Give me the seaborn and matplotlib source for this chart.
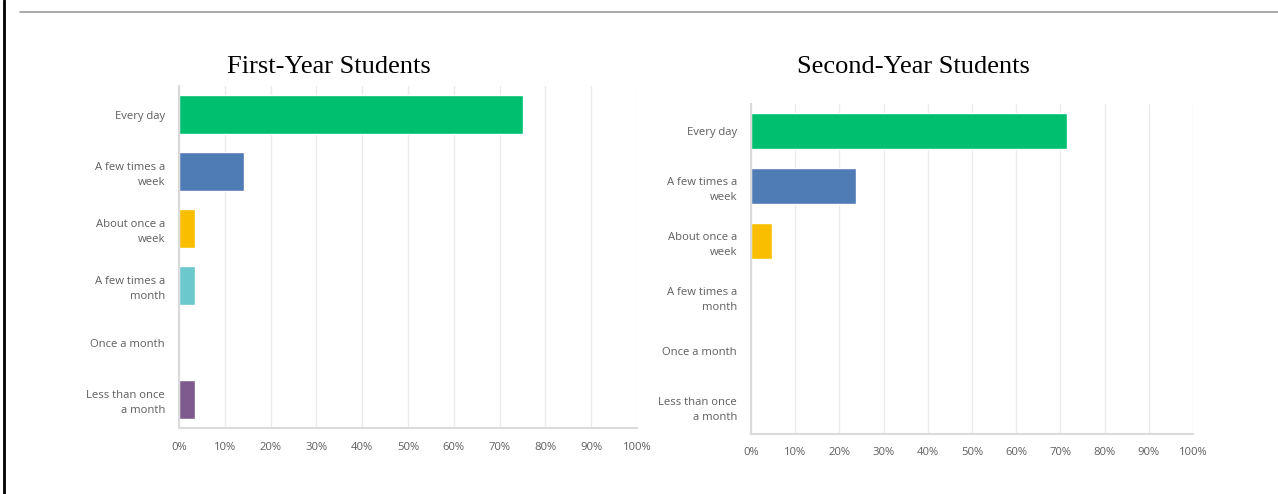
import matplotlib
matplotlib.use("Agg")
import matplotlib.pyplot as plt
from matplotlib.lines import Line2D
import seaborn as sns
import pandas as pd

# Survey answers: how often students use the service
categories = [
    "Every day",
    "A few times a\nweek",
    "About once a\nweek",
    "A few times a\nmonth",
    "Once a month",
    "Less than once\na month",
]
first_year_pct = [75.0, 14.3, 3.6, 3.6, 0.0, 3.6]
second_year_pct = [71.4, 23.8, 4.8, 0.0, 0.0, 0.0]
bar_colors = ["#00BF6F", "#507CB6", "#F9BE00", "#6BC8CD", "#FF8B4F", "#7D5B8E"]
x_ticks = [0, 10, 20, 30, 40, 50, 60, 70, 80, 90, 100]
x_tick_labels = [f"{t}%" for t in x_ticks]
titles = ["First-Year Students", "Second-Year Students"]

sns.set_theme(style="white")
plt.rcParams["font.family"] = ["Open Sans", "DejaVu Sans"]

W, H = 1278, 494
fig = plt.figure(figsize=(W / 100, H / 100), dpi=100)
fig.patch.set_facecolor("white")

# page frame: grey rule along the top, black rule at the left
fig.add_artist(Line2D([20 / W, 1.0], [1 - 12 / H, 1 - 12 / H], color="#9a9a9a", lw=1.2))
fig.add_artist(Line2D([4 / W, 4 / W], [0, 1], color="black", lw=2.0))

panels = [
    dict(rect=[179 / W, 1 - 428 / H, 458 / W, 342 / H], values=first_year_pct,
         title=titles[0], title_xy=(329 / W, 1 - 67 / H)),
    dict(rect=[751 / W, 1 - 433.5 / H, 442 / W, 330 / H], values=second_year_pct,
         title=titles[1], title_xy=(913 / W, 1 - 67 / H)),
]

label_color = "#5f5f5f"
for p in panels:
    ax = fig.add_axes(p["rect"])
    df = pd.DataFrame({"answer": categories, "pct": p["values"]})
    sns.barplot(data=df, x="pct", y="answer", hue="answer", palette=bar_colors,
                order=categories, hue_order=categories, legend=False,
                width=0.67, orient="h", ax=ax, saturation=1)
    ax.set_xlim(0, 100)
    ax.set_ylim(5.5, -0.5)
    ax.set_xticks(x_ticks)
    ax.set_xticklabels(x_tick_labels)
    ax.set_xlabel("")
    ax.set_ylabel("")
    ax.grid(axis="x", color="#ebebeb", lw=1.0)
    ax.grid(axis="y", visible=False)
    ax.set_axisbelow(True)
    for side in ["top", "right"]:
        ax.spines[side].set_visible(False)
    for side in ["left", "bottom"]:
        ax.spines[side].set_color("#dadada")
        ax.spines[side].set_linewidth(1.5)
    ax.tick_params(axis="both", length=0, colors=label_color, labelsize=8.1)
    ax.tick_params(axis="x", pad=10)
    ax.tick_params(axis="y", pad=10)
    for lbl in ax.get_yticklabels():
        lbl.set_horizontalalignment("right")
        lbl.set_multialignment("right")
        lbl.set_linespacing(1.5)
    fig.text(p["title_xy"][0], p["title_xy"][1], p["title"], ha="center", va="center",
             family=["Liberation Serif", "DejaVu Serif"], fontsize=19, color="black")

fig.savefig("out.png", dpi=100, facecolor="white")
